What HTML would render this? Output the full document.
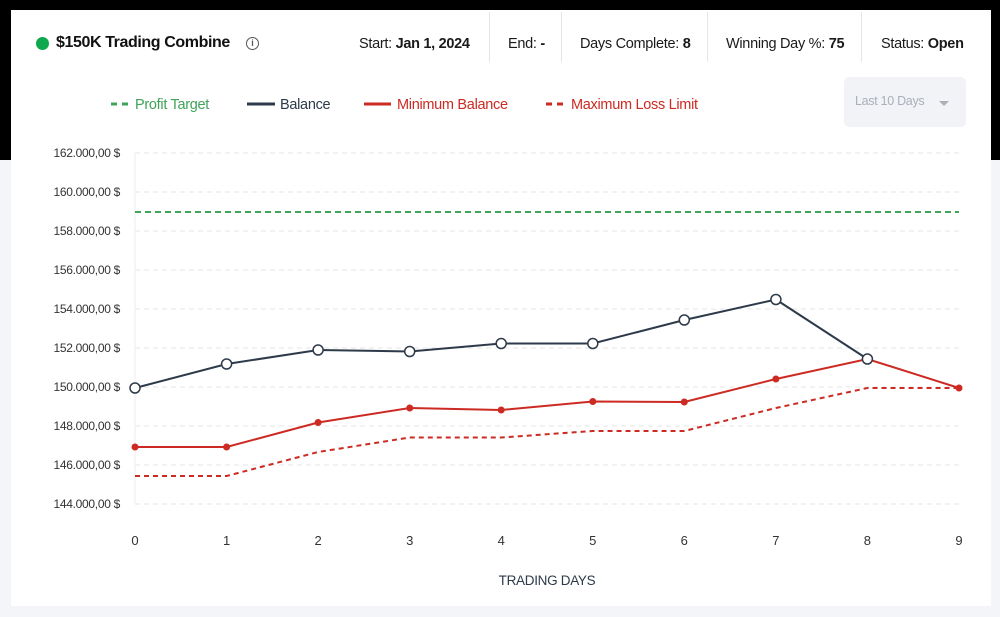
<!DOCTYPE html>
<html><head><meta charset="utf-8"><style>
html,body{margin:0;padding:0;}
body{width:1000px;height:617px;position:relative;overflow:hidden;font-family:"Liberation Sans",sans-serif;background:#f3f5f8;}
.blk{position:absolute;left:0;top:0;width:1000px;height:160px;background:#000;}
.card{position:absolute;left:11px;top:10px;width:980px;height:596px;background:#fff;}
.t{position:absolute;white-space:nowrap;color:#1a1a1a;font-size:14.5px;letter-spacing:-0.3px;}
.sep{position:absolute;top:12px;width:1px;height:50px;background:#e3e6ea;}
</style></head><body>
<div class="blk"></div>
<div class="card"></div>
<div style="position:absolute;left:36px;top:37px;width:13px;height:13px;border-radius:50%;background:#0fa84e"></div>
<div class="t" style="left:56px;top:34px;font-size:16px;font-weight:bold;color:#111;letter-spacing:-0.4px">$150K Trading Combine</div>
<div style="position:absolute;left:246px;top:37px;width:11px;height:11px;border:1.3px solid #555;border-radius:50%;font-size:9px;line-height:11px;text-align:center;color:#555;font-weight:bold">i</div>
<div class="t" style="left:359px;top:36px">Start: <b>Jan 1, 2024</b></div>
<div class="sep" style="left:489px"></div>
<div class="t" style="left:508px;top:36px">End: <b>-</b></div>
<div class="sep" style="left:561px"></div>
<div class="t" style="left:580px;top:36px">Days Complete: <b>8</b></div>
<div class="sep" style="left:707px"></div>
<div class="t" style="left:726px;top:36px">Winning Day %: <b>75</b></div>
<div class="sep" style="left:861px"></div>
<div class="t" style="left:881px;top:36px">Status: <b>Open</b></div>
<div style="position:absolute;left:844px;top:77px;width:122px;height:50px;background:#f1f3f6;border-radius:5px"></div>
<div class="t" style="left:855px;top:94px;font-size:12.5px;color:#a9b0ba">Last 10 Days</div>
<div style="position:absolute;left:939px;top:101px;border-left:5px solid transparent;border-right:5px solid transparent;border-top:5px solid #a9b0ba"></div>
<svg style="position:absolute;left:0;top:0" width="1000" height="617" font-family="Liberation Sans, sans-serif">
<g font-size="14.5" letter-spacing="-0.3">
<line x1="111" y1="104" x2="130" y2="104" stroke="#3fa35a" stroke-width="3" stroke-dasharray="6,5"/>
<text x="135" y="109" fill="#3fa35a">Profit Target</text>
<line x1="247" y1="104" x2="275" y2="104" stroke="#2d3a4a" stroke-width="3"/>
<text x="280" y="109" fill="#2d3a4a">Balance</text>
<line x1="364" y1="104" x2="391" y2="104" stroke="#cc2a22" stroke-width="3"/>
<text x="397" y="109" fill="#cc2a22">Minimum Balance</text>
<line x1="546" y1="104" x2="565" y2="104" stroke="#cc2a22" stroke-width="3" stroke-dasharray="6,5"/>
<text x="571" y="109" fill="#cc2a22">Maximum Loss Limit</text>
</g>
<g stroke="#e6e6e6" stroke-dasharray="5,4" stroke-width="1">
<line x1="135" y1="153" x2="959" y2="153"/><line x1="135" y1="192" x2="959" y2="192"/>
<line x1="135" y1="231" x2="959" y2="231"/><line x1="135" y1="270" x2="959" y2="270"/>
<line x1="135" y1="309" x2="959" y2="309"/><line x1="135" y1="348" x2="959" y2="348"/>
<line x1="135" y1="387" x2="959" y2="387"/><line x1="135" y1="426" x2="959" y2="426"/>
<line x1="135" y1="465" x2="959" y2="465"/><line x1="135" y1="504" x2="959" y2="504"/>
</g>
<line x1="135" y1="153" x2="135" y2="504" stroke="#eee"/>
<g font-size="12" fill="#333" text-anchor="end" letter-spacing="-0.3">
<text x="120" y="157">162.000,00 $</text><text x="120" y="196">160.000,00 $</text>
<text x="120" y="235">158.000,00 $</text><text x="120" y="274">156.000,00 $</text>
<text x="120" y="313">154.000,00 $</text><text x="120" y="352">152.000,00 $</text>
<text x="120" y="391">150.000,00 $</text><text x="120" y="430">148.000,00 $</text>
<text x="120" y="469">146.000,00 $</text><text x="120" y="508">144.000,00 $</text>
</g>
<g font-size="13" fill="#333" text-anchor="middle">
<text x="135" y="545">0</text><text x="226.6" y="545">1</text><text x="318.1" y="545">2</text>
<text x="409.7" y="545">3</text><text x="501.2" y="545">4</text><text x="592.8" y="545">5</text>
<text x="684.3" y="545">6</text><text x="775.9" y="545">7</text><text x="867.4" y="545">8</text>
<text x="959" y="545">9</text>
<text x="547" y="585" font-size="13.5" fill="#2d3a4a" letter-spacing="-0.3">TRADING DAYS</text>
</g>
<line x1="135" y1="212" x2="959" y2="212" stroke="#3fa35a" stroke-width="2" stroke-dasharray="6,4"/>
<polyline fill="none" stroke="#cc2a22" stroke-width="2" stroke-dasharray="5,4" points="135,476 226.6,476 318.1,452 409.7,437.5 501.2,437.5 592.8,431 684.3,431 775.9,408 867.4,388 959,388"/>
<polyline fill="none" stroke="#cc2a22" stroke-width="2" points="135,447 226.6,447 318.1,422.5 409.7,408 501.2,410 592.8,401.5 684.3,402 775.9,379 867.4,359 959,388"/>
<g fill="#cc2a22">
<circle cx="135" cy="447" r="3.5"/><circle cx="226.6" cy="447" r="3.5"/><circle cx="318.1" cy="422.5" r="3.5"/>
<circle cx="409.7" cy="408" r="3.5"/><circle cx="501.2" cy="410" r="3.5"/><circle cx="592.8" cy="401.5" r="3.5"/>
<circle cx="684.3" cy="402" r="3.5"/><circle cx="775.9" cy="379" r="3.5"/><circle cx="959" cy="388" r="3.5"/>
</g>
<polyline fill="none" stroke="#2d3a4a" stroke-width="2" points="135,388 226.6,364 318.1,350 409.7,351.5 501.2,343.5 592.8,343.5 684.3,320 775.9,299.5 867.4,359"/>
<g fill="#fff" stroke="#2d3a4a" stroke-width="1.5">
<circle cx="135" cy="388" r="5"/><circle cx="226.6" cy="364" r="5"/><circle cx="318.1" cy="350" r="5"/>
<circle cx="409.7" cy="351.5" r="5"/><circle cx="501.2" cy="343.5" r="5"/><circle cx="592.8" cy="343.5" r="5"/>
<circle cx="684.3" cy="320" r="5"/><circle cx="775.9" cy="299.5" r="5"/><circle cx="867.4" cy="359" r="5"/>
</g>
</svg>
</body></html>
